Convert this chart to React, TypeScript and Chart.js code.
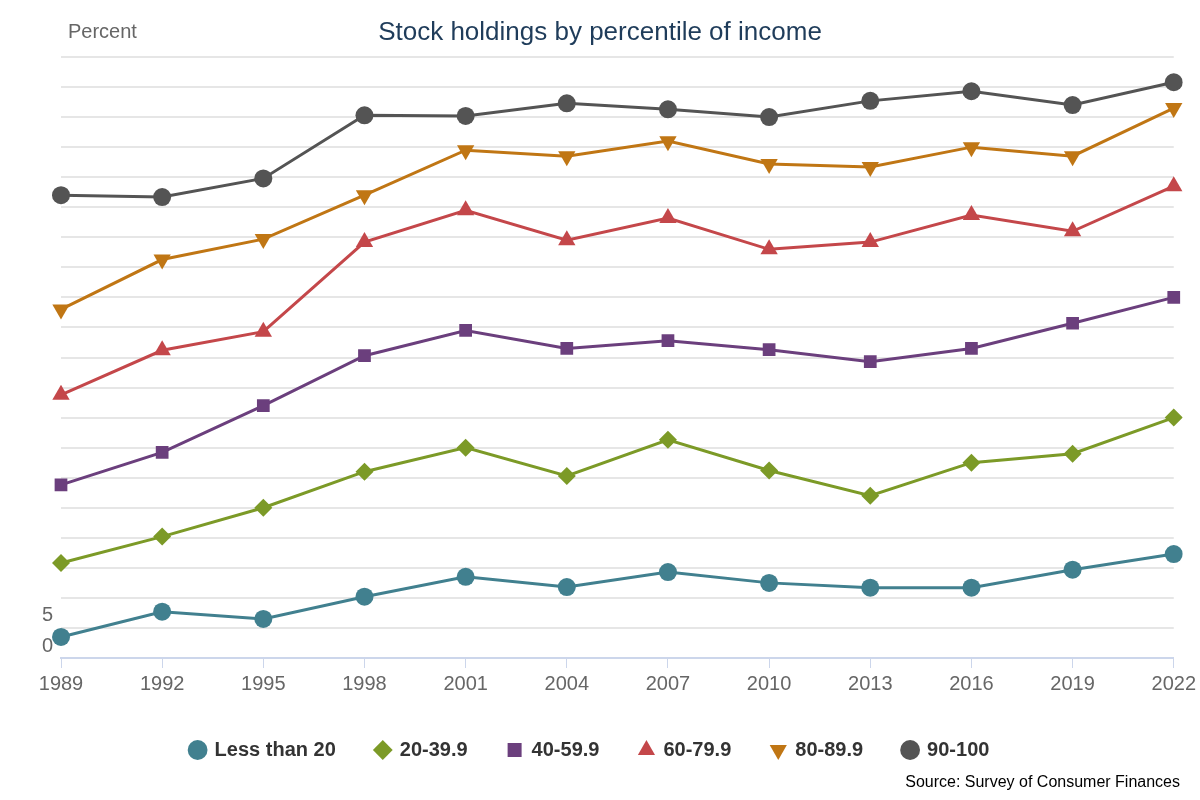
import React, { useEffect, useRef } from "react";
import { Chart, registerables } from "chart.js";
Chart.register(...registerables);

const years = ["1989","1992","1995","1998","2001","2004","2007","2010","2013","2016","2019","2022"];
const lessThan20 = [3.5,7.7,6.5,10.2,13.5,11.8,14.3,12.5,11.7,11.7,14.7,17.3];
const p20_39 = [15.8,20.2,25,31,35,30.3,36.3,31.2,27,32.5,34,40];
const p40_59 = [28.8,34.2,42,50.3,54.5,51.5,52.8,51.3,49.3,51.5,55.7,60];
const p60_79 = [43.8,51.2,54.3,69.2,74.5,69.5,73.2,68,69.2,73.7,71,78.5];
const p80_89 = [58,66.3,69.7,77,84.5,83.5,86,82.2,81.7,85,83.5,91.5];
const p90_100 = [77,76.7,79.8,90.3,90.2,92.3,91.3,90,92.7,94.3,92,95.8];

const series = [
  { label: "Less than 20", data: lessThan20, color: "#41808f", style: "circle", rot: 0, r: 9 },
  { label: "20-39.9", data: p20_39, color: "#7c9a27", style: "rectRot", rot: 0, r: 9 },
  { label: "40-59.9", data: p40_59, color: "#6b3f7d", style: "rect", rot: 0, r: 9 },
  { label: "60-79.9", data: p60_79, color: "#c4474a", style: "triangle", rot: 0, r: 10 },
  { label: "80-89.9", data: p80_89, color: "#c07614", style: "triangle", rot: 180, r: 10 },
  { label: "90-100", data: p90_100, color: "#545454", style: "circle", rot: 0, r: 9 },
];

const textPlugin = {
  id: "texts",
  afterDraw(chart: any) {
    const ctx = chart.ctx;
    ctx.save();
    ctx.textBaseline = "middle";
    ctx.fillStyle = "#1f3c5a";
    ctx.font = "26px 'Liberation Sans', Arial, sans-serif";
    ctx.textAlign = "center";
    ctx.fillText("Stock holdings by percentile of income", 600, 33);
    ctx.fillStyle = "#666666";
    ctx.font = "20px 'Liberation Sans', Arial, sans-serif";
    ctx.textAlign = "left";
    ctx.fillText("Percent", 68, 32);
    ctx.fillStyle = "#000000";
    ctx.font = "16px 'Liberation Sans', Arial, sans-serif";
    ctx.textAlign = "right";
    ctx.fillText("Source: Survey of Consumer Finances", 1180, 783);
    ctx.restore();
  },
};

export default function App() {
  const ref = useRef<HTMLCanvasElement>(null);
  useEffect(() => {
    const chart = new Chart(ref.current!, {
      type: "line",
      data: {
        labels: years,
        datasets: series.map((s) => ({
          label: s.label,
          data: s.data,
          borderColor: s.color,
          backgroundColor: s.color,
          borderWidth: 3,
          pointStyle: s.style as any,
          pointRotation: s.rot,
          pointRadius: s.r,
          pointBorderWidth: 0,
          tension: 0,
        })),
      },
      plugins: [textPlugin],
      options: {
        animation: false,
        responsive: false,
        layout: { padding: { top: 57, left: 0, right: 20, bottom: 30 } },
        plugins: {
          title: { display: false },
          tooltip: { enabled: false },
          legend: {
            position: "bottom",
            labels: {
              usePointStyle: true,
              boxWidth: 14,
              boxHeight: 14,
              padding: 40,
              color: "#333333",
              font: { size: 20, weight: "bold", family: "'Liberation Sans', Arial, sans-serif" },
            },
          },
        },
        scales: {
          x: {
            offset: false,
            grid: { drawOnChartArea: false, color: "#ccd6eb", tickLength: 10 },
            border: { color: "#ccd6eb", width: 2 },
            ticks: { color: "#666666", font: { size: 20, family: "'Liberation Sans', Arial, sans-serif" }, padding: 4, maxRotation: 0 },
          },
          y: {
            min: 0,
            max: 100,
            afterFit: (s: any) => { s.width = 61; },
            grid: { color: "#e6e6e6", lineWidth: 2, drawTicks: false },
            border: { display: false },
            ticks: {
              stepSize: 5,
              padding: 8,
              labelOffset: -12,
              color: "#666666",
              font: { size: 20, family: "'Liberation Sans', Arial, sans-serif" },
              callback: (v: any) => (v === 0 || v === 5 ? String(v) : ""),
            },
          },
        },
      },
    });
    return () => chart.destroy();
  }, []);
  return (
    <div style={{ position: "absolute", left: 0, top: 0 }}>
      <canvas ref={ref} width={1200} height={800} style={{ width: 1200, height: 800 }} />
    </div>
  );
}
